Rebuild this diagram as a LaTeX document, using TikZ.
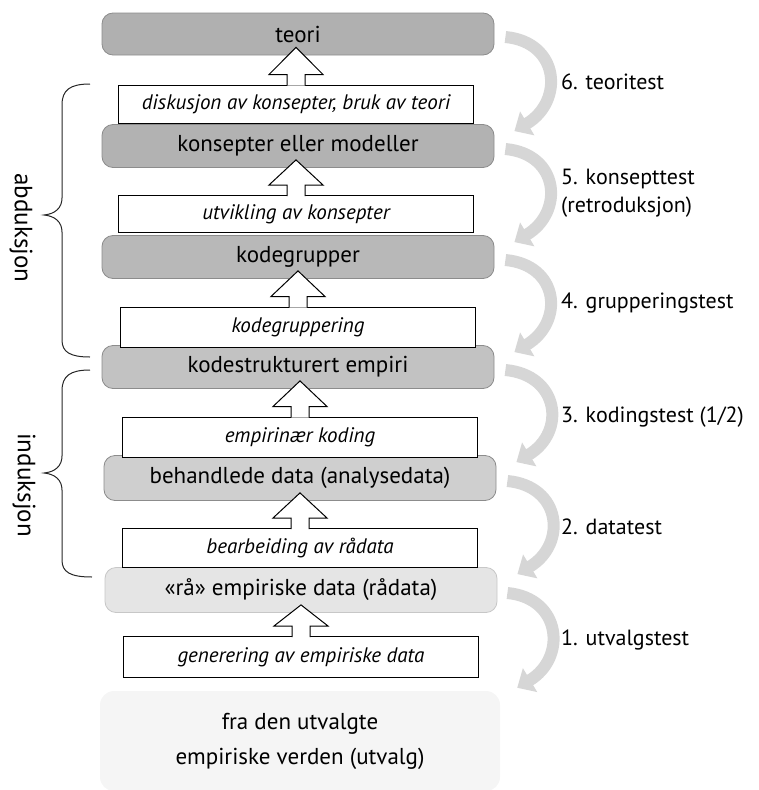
\documentclass[tikz,border=0pt]{standalone}
\usepackage{fontspec}
\setmainfont{PT Sans}
\usetikzlibrary{arrows.meta,calc}
% hollow block arrow from the top of a work box up into the stage above it
\newcommand\blockup[2]{%
  \draw[blockarrow] let \p1=(#1.north), \p2=(#2.south) in
    (\x1-9pt,\y1-1pt) -- (\x1-9pt,\y1+10pt) -- (\x1-27pt,\y1+10pt) --
    (\x1,\y2+8pt) -- (\x1+27pt,\y1+10pt) -- (\x1+9pt,\y1+10pt) -- (\x1+9pt,\y1-1pt);}
% curved test arrow from one stage down to the next
\newcommand\testdown[2]{%
  \draw[testarrow] ($(#1.east)+(11,3)$) .. controls +(54,5) and +(50,-30) .. ($(#2.north east)+(20,7)$);}
\begin{document}
\begin{tikzpicture}[x=1pt,y=-1pt,
  stage/.style={draw=black!45, line width=0.8pt, rounded corners=11pt,
    minimum width=392pt, minimum height=43pt, inner sep=0pt,
    font=\fontsize{23}{27}\selectfont},
  work/.style={draw=black, line width=1pt, fill=white, minimum width=355pt,
    minimum height=39pt, inner sep=0pt, font=\fontsize{21}{25}\selectfont\itshape},
  blockarrow/.style={draw=black, line width=1pt, fill=white, line join=miter},
  testarrow/.style={line width=12pt, draw=black!16, -{Triangle[width=27pt,length=15pt]}},
  testlabel/.style={anchor=west, align=left, inner sep=2pt,
    font=\fontsize{22}{28}\selectfont},
  bracepath/.style={draw=black!85, line width=1pt},
  side/.style={rotate=-90, font=\fontsize{25}{29}\selectfont}]
\useasboundingbox (0,0) rectangle (758,790);

% the world the sample is drawn from
\node[fill=black!4, rounded corners=14pt, minimum width=400pt, minimum height=100pt,
  align=center, font=\fontsize{23}{35}\selectfont] (utvalg) at (300,741)
  {fra den utvalgte\\empiriske verden (utvalg)};

% stages of material, from raw data up to theory
\node[stage, fill=black!31, minimum height=42pt] (teori) at (298,34) {teori};
\node[stage, fill=black!30] (konsepter) at (298,146) {konsepter eller modeller};
\node[stage, fill=black!28] (kodegrupper) at (298,257) {kodegrupper};
\node[stage, fill=black!24] (kodestrukturert) at (298,367) {kodestrukturert empiri};
\node[stage, fill=black!19, minimum height=45pt] (behandlede) at (300,478) {behandlede data (analysedata)};
\node[stage, fill=black!10, draw=black!22, minimum height=45pt] (raa) at (301,590) {«rå» empiriske data (rådata)};

% work steps between the stages
\node[work, minimum height=38pt] (diskusjon) at (296,104) {diskusjon av konsepter, bruk av teori};
\node[work, minimum height=37pt] (utvikling) at (296,214) {utvikling av konsepter};
\node[work, minimum height=40pt] (kodegruppering) at (298,327) {kodegruppering};
\node[work, minimum height=40pt] (empirinaer) at (300,437) {empirinær koding};
\node[work] (bearbeiding) at (300,548) {bearbeiding av rådata};
\node[work, minimum height=41pt] (generering) at (301,657) {generering av empiriske data};

% block arrows up through the chain
\blockup{diskusjon}{teori}
\blockup{utvikling}{konsepter}
\blockup{kodegruppering}{kodegrupper}
\blockup{empirinaer}{kodestrukturert}
\blockup{bearbeiding}{behandlede}
\blockup{generering}{raa}

% tests running back down the chain
\testdown{teori}{konsepter}
\testdown{konsepter}{kodegrupper}
\testdown{kodegrupper}{kodestrukturert}
\testdown{kodestrukturert}{behandlede}
\testdown{behandlede}{raa}
\draw[testarrow] ($(raa.east)+(10,3)$) .. controls +(54,5) and +(50,-30) .. ($(utvalg.north east)+(17,-3)$);

\node[testlabel] (t6) at (559,82) {6. teoritest};
\node[testlabel] (t5) at (559,193) {5. konsepttest\\(retroduksjon)};
\node[testlabel] (t4) at (559,303) {4. grupperingstest};
\node[testlabel] (t3) at (559,417) {3. kodingstest (1/2)};
\node[testlabel] (t2) at (559,527) {2. datatest};
\node[testlabel] (t1) at (559,640) {1. utvalgstest};

% braces for the two modes of reasoning
\draw[bracepath] (90,84) .. controls (70,84) and (62,90) .. (62,105) -- (62,198)
  .. controls (62,208) and (55,214) .. (44,215)
  .. controls (55,216) and (62,222) .. (62,232) -- (62,340)
  .. controls (62,352) and (70,357) .. (90,357);
\draw[bracepath] (90,370) .. controls (70,370) and (62,376) .. (62,391) -- (62,456)
  .. controls (62,466) and (55,472) .. (44,473)
  .. controls (55,474) and (62,480) .. (62,490) -- (62,560)
  .. controls (62,572) and (70,577) .. (92,577);
\node[side] (abd) at (21,228) {abduksjon};
\node[side] (ind) at (24,485) {induksjon};
\end{tikzpicture}
\end{document}
